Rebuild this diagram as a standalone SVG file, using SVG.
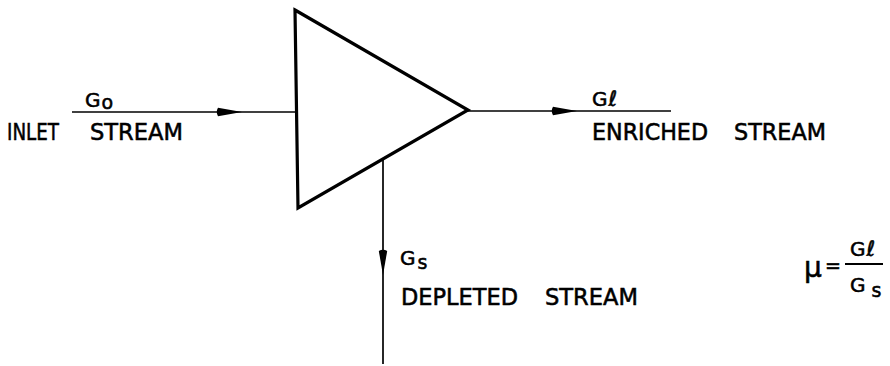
<svg xmlns="http://www.w3.org/2000/svg" width="890" height="366" viewBox="0 0 890 366">
<style>
text{font-family:"DejaVu Sans","Liberation Sans",sans-serif;fill:#000;stroke:#000;stroke-width:0.55}
.lbl{font-size:23px}
.g{font-size:20px}
.sub{font-size:19px}
.wire{stroke:#000;stroke-width:1.7;fill:none}
.tri{stroke:#000;stroke-width:3.2;fill:#fff;stroke-linejoin:miter}
</style>
<defs>
<marker id="arr" markerUnits="userSpaceOnUse" markerWidth="30" markerHeight="12" refX="26" refY="6" orient="auto" overflow="visible">
<path d="M26,6 L2,1.8 Q-0.5,6 2,10.2 Z" fill="#000"/>
</marker>
</defs>
<rect width="890" height="366" fill="#fff"/>
<g id="connectors">
<line class="wire" x1="72" y1="112" x2="242" y2="112" marker-end="url(#arr)"/>
<line class="wire" x1="242" y1="112" x2="296" y2="112"/>
<line class="wire" x1="468" y1="111" x2="577" y2="111" marker-end="url(#arr)"/>
<line class="wire" x1="577" y1="111" x2="671" y2="111"/>
<line class="wire" x1="383" y1="159" x2="383" y2="275" marker-end="url(#arr)"/>
<line class="wire" x1="383" y1="275" x2="383" y2="364"/>
</g>
<g id="separator">
<polygon class="tri" points="295,10 468,110 298,208"/>
</g>
<g id="inlet">
<text class="g" x="85" y="107">G<tspan class="sub" dx="1" dy="2">o</tspan></text>
<text class="lbl" x="7" y="140" textLength="52" lengthAdjust="spacingAndGlyphs">INLET</text>
<text class="lbl" x="90" y="140" textLength="93" lengthAdjust="spacingAndGlyphs">STREAM</text>
</g>
<g id="enriched">
<text class="g" x="592" y="106">G<tspan class="sub" dx="1" style="font-size:21px">ℓ</tspan></text>
<text class="lbl" x="592" y="140" textLength="116" lengthAdjust="spacingAndGlyphs">ENRICHED</text>
<text class="lbl" x="734" y="140" textLength="92" lengthAdjust="spacingAndGlyphs">STREAM</text>
</g>
<g id="depleted">
<text class="g" x="400" y="265">G<tspan class="sub" dx="2" dy="4">s</tspan></text>
<text class="lbl" x="401" y="305" textLength="117" lengthAdjust="spacingAndGlyphs">DEPLETED</text>
<text class="lbl" x="545" y="305" textLength="93" lengthAdjust="spacingAndGlyphs">STREAM</text>
</g>
<g id="formula">
<text x="804" y="277" style="font-size:28px">μ</text>
<text x="825" y="272" style="font-size:19px">=</text>
<line x1="845" y1="264" x2="883" y2="264" stroke="#000" stroke-width="2"/>
<text class="g" x="850" y="256">G<tspan class="sub" dx="1" style="font-size:21px">ℓ</tspan></text>
<text class="g" x="850" y="292">G<tspan class="sub" dx="6" dy="5">s</tspan></text>
</g>
</svg>
